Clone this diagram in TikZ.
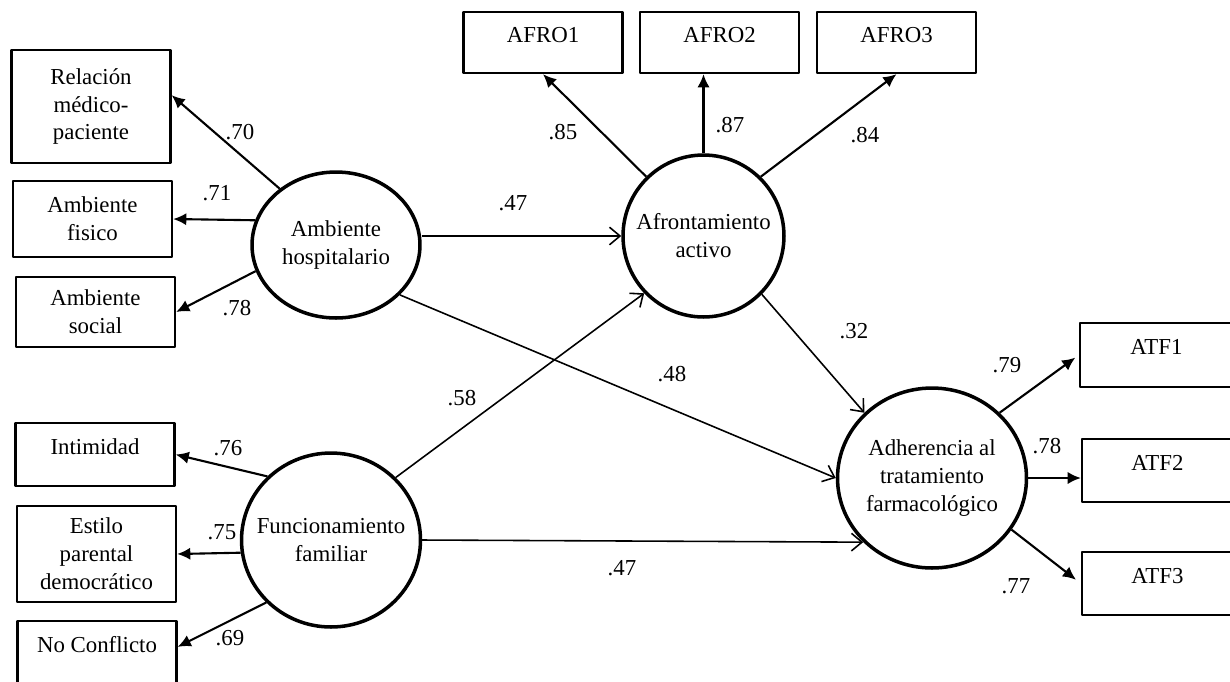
\documentclass[tikz,border=0pt]{standalone}
\usepackage{fontspec}
\setmainfont{Liberation Serif}
\usetikzlibrary{arrows.meta,shapes.geometric}
\begin{document}
\begin{tikzpicture}[x=0.02cm, y=-0.02cm, font=\fontsize{13}{15.9}\selectfont, line join=round,
	obs/.style={draw, line width=1.3pt, align=center, inner sep=0pt, minimum width=3.18cm},
	upper/.style={text depth=9pt},
	latent/.style={draw, ellipse, line width=2pt, align=center, inner sep=-8pt},
	load/.style={-{Latex[length=7.5pt,width=7pt]}, line width=1.2pt},
	effect/.style={-{Straight Barb[length=6pt,width=10pt]}, line width=0.9pt},
	coef/.style={inner sep=0pt}]
	\useasboundingbox (0,0) rectangle (1230,681);
	% indicadores
	\node[obs, minimum height=2.26cm] (rel) at (91,106.5) {Relación\\médico-\\paciente};
	\node[obs, minimum height=1.52cm] (fis) at (92.5,219) {Ambiente\\fisico};
	\node[obs, minimum height=1.4cm] (soc) at (95.5,312) {Ambiente\\social};
	\node[obs, upper, minimum height=1.26cm] (int) at (95,454.5) {Intimidad};
	\node[obs, minimum height=1.92cm] (est) at (96.5,554) {Estilo\\parental\\democrático};
	\node[obs, upper, minimum height=1.26cm] (noc) at (97,652.5) {No Conflicto};
	\node[obs, upper, minimum height=1.22cm] (afro1) at (543,42.5) {AFRO1};
	\node[obs, upper, minimum height=1.22cm] (afro2) at (719.5,42.5) {AFRO2};
	\node[obs, upper, minimum height=1.22cm] (afro3) at (896.5,42.5) {AFRO3};
	\node[obs, upper, minimum width=3.06cm, minimum height=1.28cm] (atf1) at (1156.5,355) {ATF1};
	\node[obs, upper, minimum width=3.02cm, minimum height=1.26cm] (atf2) at (1157.5,470.5) {ATF2};
	\node[obs, upper, minimum width=3.02cm, minimum height=1.26cm] (atf3) at (1157.5,583.5) {ATF3};
	% variables latentes
	\node[latent, minimum width=3.36cm, minimum height=2.92cm] (hosp) at (336,245) {Ambiente\\hospitalario};
	\node[latent, minimum width=3.22cm, minimum height=3.24cm] (afr) at (703.5,236) {Afrontamiento\\activo};
	\node[latent, minimum width=3.58cm, minimum height=3.48cm] (fam) at (331,540) {Funcionamiento\\familiar};
	\node[latent, minimum width=3.78cm, minimum height=3.6cm] (adh) at (932,478) {Adherencia al\\tratamiento\\farmacológico};
	% cargas
	\draw[load] (hosp.135) -- (rel.8);
	\draw[load] (hosp.163) -- (fis.east);
	\draw[load] (hosp.198) -- (soc.east);
	\draw[load] (fam.135) -- (int.east);
	\draw[load] (fam.188) -- (est.east);
	\draw[load] (fam.224) -- (noc.4);
	\draw[load] (afr.134) -- (afro1.south);
	\draw[load] (afr.north) -- (afr.north |- afro2.south);
	\draw[load] (afr.46) -- (afro3.south);
	\draw[load, shorten >=2.5pt] (adh.44) -- (atf1.west);
	\draw[load] (adh.east) -- (adh.east -| atf2.west);
	\draw[load, shorten >=3.5pt] (adh.-33) -- (atf3.west);
	% relaciones estructurales
	\draw[effect] (hosp.east |- afr.west) -- (afr.west);
	\draw[effect] (hosp.-38) -- (adh.west);
	\draw[effect] (fam.44) -- (afr.224);
	\draw[effect] (fam.east) -- (adh.223);
	\draw[effect] (afr.-45) -- (adh.136);
	% coeficientes
	\node[coef] (c70) at (240,132) {.70};
	\node[coef] (c71) at (217,193) {.71};
	\node[coef] (c78a) at (237,308) {.78};
	\node[coef] (c76) at (228,448) {.76};
	\node[coef] (c75) at (222,532) {.75};
	\node[coef] (c69) at (230,638) {.69};
	\node[coef] (c85) at (563,132) {.85};
	\node[coef] (c87) at (730,125) {.87};
	\node[coef] (c84) at (865,135) {.84};
	\node[coef] (c47a) at (513,203) {.47};
	\node[coef] (c58) at (462,398) {.58};
	\node[coef] (c48) at (672,374) {.48};
	\node[coef] (c47b) at (622,568) {.47};
	\node[coef] (c32) at (854,331) {.32};
	\node[coef] (c79) at (1007,365) {.79};
	\node[coef] (c78b) at (1047,446) {.78};
	\node[coef] (c77) at (1016,586) {.77};
\end{tikzpicture}
\end{document}
